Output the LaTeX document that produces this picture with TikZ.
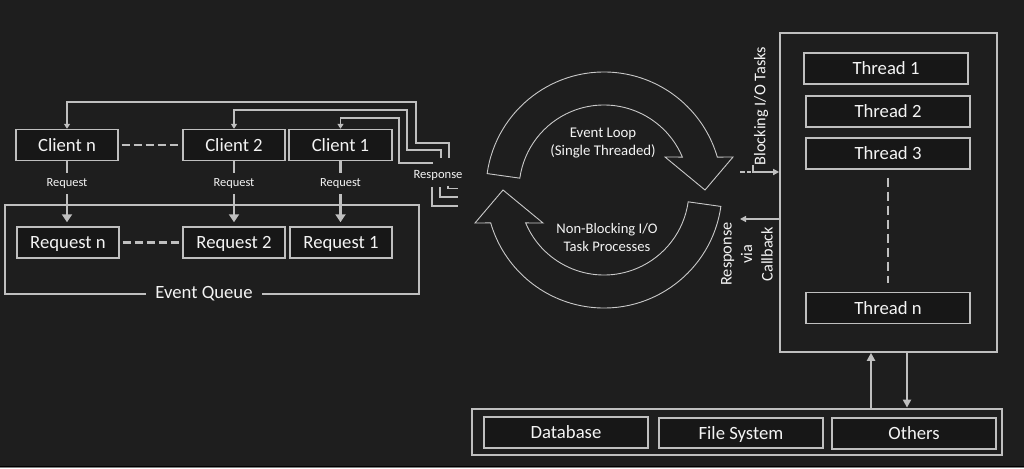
\documentclass[tikz,border=0pt]{standalone}
\usepackage{fontspec}
\setmainfont{Carlito}
\usetikzlibrary{arrows.meta,calc}
\definecolor{bg}{HTML}{1E1E1E}
\definecolor{boxfill}{HTML}{171717}
\definecolor{ln}{HTML}{BFBFBF}
\definecolor{tx}{HTML}{F4F4F4}
\begin{document}
\begin{tikzpicture}[x=1pt,y=-1pt,
  box/.style={draw=ln, line width=1.4pt, fill=boxfill, text=tx, minimum height=31pt, inner sep=0pt, text height=12.6pt, text depth=0pt, font=\fontsize{18.7}{22}\selectfont},
  container/.style={draw=ln, line width=2.4pt, inner sep=0pt},
  smalltxt/.style={text=tx, font=\fontsize{12.4}{14}\selectfont},
  reqarr/.style={draw=ln, line width=2.6pt, -{Triangle[width=10pt,length=8pt]}, shorten >=4pt},
  dashln/.style={draw=ln, line width=2.4pt, dash pattern=on 8pt off 4pt},
  resp/.style={draw=ln, line width=1.3pt},
  resparr/.style={resp, -{Triangle[width=6pt,length=5pt]}},
  ioarr/.style={draw=ln, line width=1.3pt, -{Triangle[width=6pt,length=6pt]}},
  bigarr/.style={draw=ln, line width=2.2pt, -{Triangle[width=8pt,length=8pt]}},
  ringline/.style={draw=ln!85!white, line width=0.9pt},
  rottxt/.style={text=tx, rotate=90, align=center, font=\fontsize{16.3}{20.5}\selectfont},
  looptxt/.style={text=tx, align=center, font=\fontsize{14.8}{18}\selectfont}
]
\fill[bg] (0,0) rectangle (1024,468);
\useasboundingbox (0,0) rectangle (1024,468);
\fill[black] (0,465.5) rectangle (1024,467);
\fill[gray] (0,467) rectangle (1024,468);

% ---------- Event queue side ----------
\node[container, minimum width=414pt, minimum height=89pt] (eq) at (212,249.5) {};
\node[text=tx, fill=bg, inner xsep=9pt, inner ysep=2pt, font=\fontsize{18.7}{22}\selectfont] (eql) at (204,294) {Event Queue};

\node[box, minimum width=102pt] (cn) at (67,145) {Client n};
\node[box, minimum width=102pt] (c2) at (234,145) {Client 2};
\node[box, minimum width=103pt] (c1) at (340.5,145) {Client 1};

\node[box, minimum width=102pt] (rn) at (68,242.5) {Request n};
\node[box, minimum width=102pt] (r2) at (234,242.5) {Request 2};
\node[box, minimum width=102pt] (r1) at (341,242.5) {Request 1};

\draw[dashln, shorten <=3pt, shorten >=3pt] (cn.east) -- (c2.west);
\draw[dashln, shorten <=3pt, shorten >=3pt] (rn.east) -- (r2.west);

\draw[reqarr] (cn.south) -- node[pos=0.34, smalltxt, fill=bg, inner xsep=2pt, inner ysep=5.5pt] (q1) {Request} (cn.south |- rn.north);
\draw[reqarr] (c2.south) -- node[pos=0.34, smalltxt, fill=bg, inner xsep=2pt, inner ysep=5.5pt] (q2) {Request} (c2.south |- r2.north);
\draw[reqarr] (c1.south) -- node[pos=0.34, smalltxt, fill=bg, inner xsep=2pt, inner ysep=5.5pt] (q3) {Request} (c1.south |- r1.north);

% ---------- Response lines ----------
\coordinate (ro) at (449,158);
\coordinate (rm) at (441,158);
\coordinate (ri) at (433,163);
\draw[resparr] (ro) -- (449,143) -- (416,143) -- (416,102) -| (cn.north);
\draw[resparr] (rm) -- (441,150) -- (407,150) -- (407,110) -| (c2.north);
\draw[resparr] (ri) -- (399,163) -- (399,118) -| (c1.north);
\node[smalltxt, font=\fontsize{12.6}{14}\selectfont] (resp) at (438,175) {Response};
\draw[resp] (432,187) |- (458,206);
\draw[resp] (440,187) |- (458,197);
\draw[resp] (448,185.5) |- (458,188.5);

% ---------- Event loop ----------
\begin{scope}[shift={(604,190)}]
  \draw[ringline] (172:118pt) arc[start angle=172, end angle=16.2, radius=118pt]
    -- (129pt,33pt) -- (101pt,0pt) -- (61pt,33pt) -- (22.8:85pt)
    arc[start angle=22.8, end angle=172, radius=85pt] -- cycle;
  \begin{scope}[rotate=180]
  \draw[ringline] (172:118pt) arc[start angle=172, end angle=16.2, radius=118pt]
    -- (129pt,33pt) -- (101pt,0pt) -- (61pt,33pt) -- (22.8:85pt)
    arc[start angle=22.8, end angle=172, radius=85pt] -- cycle;
  \end{scope}
\end{scope}
\node[looptxt] (el) at (603,143) {Event Loop\\(Single Threaded)};
\node[looptxt, font=\fontsize{14.6}{18}\selectfont] (nb) at (607,237) {Non-Blocking I/O\\Task Processes};

% ---------- Thread pool ----------
\node[draw=ln, line width=1.6pt, minimum width=217pt, minimum height=319pt, inner sep=0pt] (pool) at (888.5,192.5) {};
\node[box, minimum width=164pt] (t1) at (886,68.5) {Thread 1};
\node[box, minimum width=164pt] (t2) at (888,111.5) {Thread 2};
\node[box, minimum width=164pt] (t3) at (888,153.5) {Thread 3};
\node[box, minimum width=164pt] (tn) at (888,308) {Thread n};
\draw[draw=ln, line width=2.4pt, dash pattern=on 9pt off 5pt, shorten <=8pt, shorten >=9pt] (t3.south) -- (tn.north);

\node[rottxt] (blk) at (761,106) {Blocking I/O Tasks};
\coordinate (bl) at (740,172);
\draw[ioarr, dash pattern=on 5pt off 2pt on 4pt off 2pt on 60pt] (bl) -- (pool.west |- bl);
\draw[resp] (753,165) -- (753,173);

\node[rottxt] (cbl) at (747,254) {Response\\via\\Callback};
\coordinate (cb) at (740,219);
\draw[ioarr] (pool.west |- cb) -- (cb);

% ---------- IO resources ----------
\node[draw=ln, line width=2.8pt, minimum width=530pt, minimum height=46pt, inner sep=0pt] (io) at (737,432) {};
\node[box, minimum width=164pt] (db) at (566,432.5) {Database};
\node[box, minimum width=164pt, minimum height=30pt] (fs) at (741,433) {File System};
\node[box, minimum width=164pt] (ot) at (914,433.5) {Others};

\coordinate (ux) at (871,380);
\coordinate (dx) at (907,380);
\draw[bigarr] (io.north -| ux) -- (pool.south -| ux);
\draw[bigarr] (pool.south -| dx) -- (io.north -| dx);
\end{tikzpicture}
\end{document}
